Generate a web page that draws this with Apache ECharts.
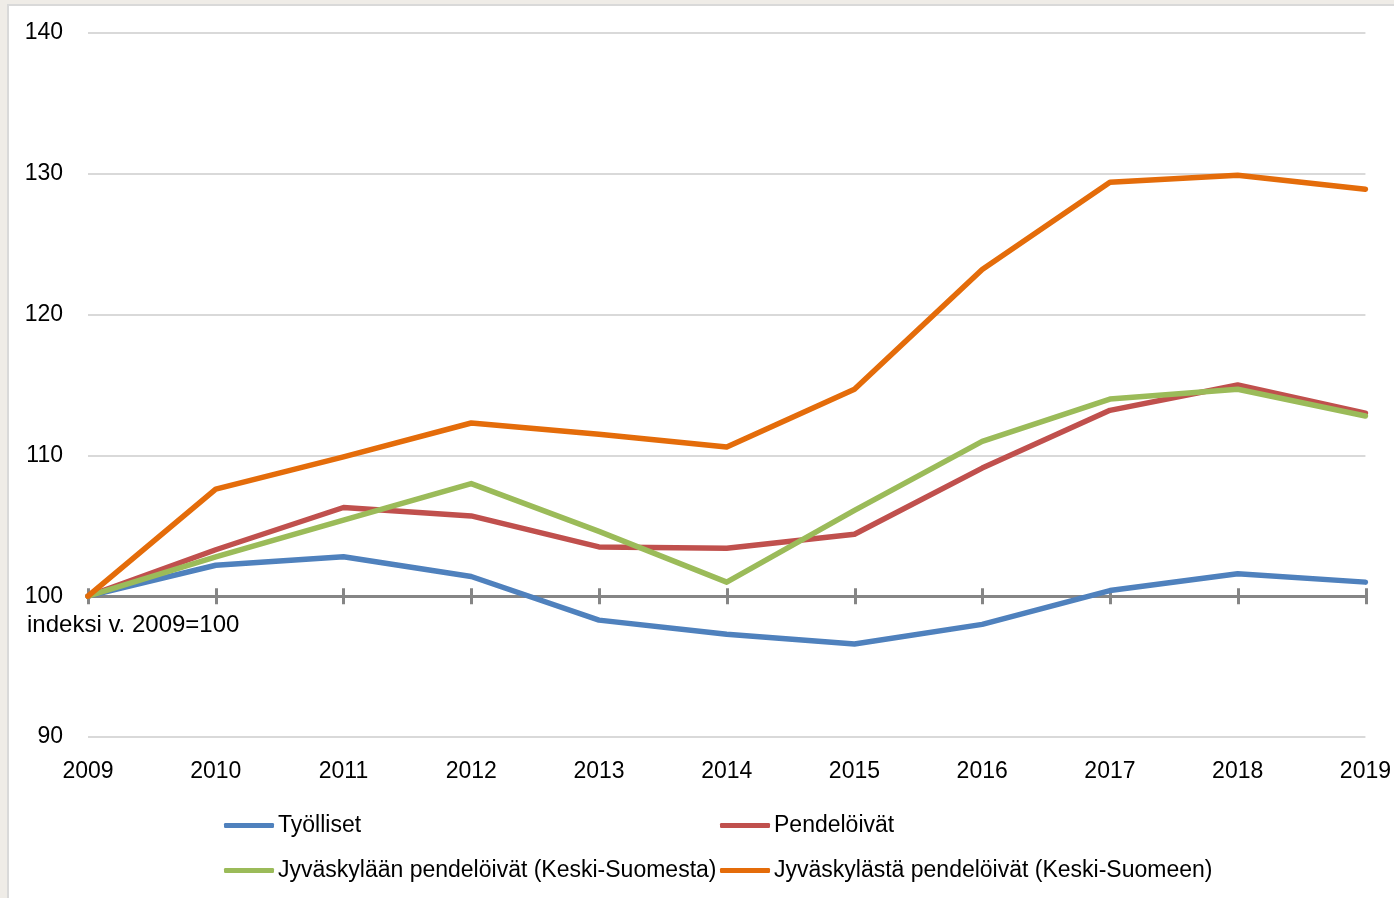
<!DOCTYPE html>
<html>
<head>
<meta charset="utf-8">
<script src="https://cdn.jsdelivr.net/npm/echarts@6/dist/echarts.min.js"></script>
<style>
  html, body { margin: 0; padding: 0; background: #efece7; }
  #chart { width: 1394px; height: 898px; }
</style>
</head>
<body>
<div id="chart"></div>
<script>
// vuodet
const years = ['2009','2010','2011','2012','2013','2014','2015','2016','2017','2018','2019'];

// indeksi v. 2009=100
const tyolliset   = [100, 102.2, 102.8, 101.4, 98.3, 97.3, 96.6, 98.0, 100.4, 101.6, 101.0];
const pendeloivat = [100, 103.3, 106.3, 105.7, 103.5, 103.4, 104.4, 109.1, 113.2, 115.0, 113.0];
const jklaan      = [100, 102.8, 105.4, 108.0, 104.6, 101.0, 106.1, 111.0, 114.0, 114.7, 112.8];
const jklasta     = [100, 107.6, 109.9, 112.3, 111.5, 110.6, 114.7, 123.2, 129.4, 129.9, 128.9];

const names = ['Työlliset', 'Pendelöivät', 'Jyväskylään pendelöivät (Keski-Suomesta)', 'Jyväskylästä pendelöivät (Keski-Suomeen)'];
const colors = ['#4f81bd', '#c0504d', '#9bbb59', '#e46c0a'];
const seriesData = [tyolliset, pendeloivat, jklaan, jklasta];

const font = 'Liberation Sans';
const axisGray = '#858585';

let myChart = echarts.init(document.getElementById('chart'));

function legendAt(i, left, top) {
  return {
    data: [names[i]],
    left: left, top: top,
    padding: 0,
    icon: 'roundRect',
    itemWidth: 50, itemHeight: 5,
    itemGap: 4,
    textStyle: { fontFamily: font, fontSize: 23, color: '#000', padding: [0, 0, 0, -1] }
  };
}

let options = {
  animation: false,
  backgroundColor: 'transparent',
  color: colors,
  graphic: [
    { type: 'rect', z: -10, shape: { x: 8, y: 5, width: 1400, height: 900 },
      style: { fill: '#fff', stroke: '#d9d9d9', lineWidth: 2 } },
    { type: 'text', left: 27, top: 613,
      style: { text: 'indeksi v. 2009=100', font: '24px "Liberation Sans"', fill: '#000' } }
  ],
  legend: [
    legendAt(0, 224, 814),
    legendAt(1, 720, 814),
    legendAt(2, 224, 859),
    legendAt(3, 720, 859)
  ],
  grid: [
    { left: 88, right: 28, top: 33, bottom: 161 },
    { left: 88, right: 28, top: 33, height: 563.2 },
    { left: 88, right: 28, top: 596.2, height: 100 }
  ],
  xAxis: [
    { type: 'category', gridIndex: 0, data: years, boundaryGap: false,
      axisLine: { show: false }, axisTick: { show: false },
      axisLabel: { fontFamily: font, fontSize: 23, color: '#000', margin: 23 } },
    { type: 'category', gridIndex: 1, data: years, boundaryGap: false, position: 'bottom',
      axisLine: { onZero: false, lineStyle: { color: axisGray, width: 3 } },
      axisTick: { length: 8, lineStyle: { color: axisGray, width: 3 } },
      axisLabel: { show: false } },
    { type: 'category', gridIndex: 2, data: years, boundaryGap: false, position: 'top',
      axisLine: { onZero: false, lineStyle: { color: axisGray, width: 3 } },
      axisTick: { length: 8, lineStyle: { color: axisGray, width: 3 } },
      axisLabel: { show: false } }
  ],
  yAxis: [
    { type: 'value', gridIndex: 0, min: 90, max: 140, interval: 10,
      axisLine: { show: false }, axisTick: { show: false },
      splitLine: { lineStyle: { color: '#d9d9d9', width: 2 } },
      axisLabel: { fontFamily: font, fontSize: 23, color: '#000', margin: 25, padding: [4, 0, 0, 0] } },
    { type: 'value', gridIndex: 1, min: 0, max: 1, show: false },
    { type: 'value', gridIndex: 2, min: 0, max: 1, show: false }
  ],
  series: seriesData.map((d, i) => ({
    name: names[i],
    type: 'line',
    xAxisIndex: 0, yAxisIndex: 0,
    data: d,
    showSymbol: false,
    symbol: 'none',
    z: 10 + i,
    lineStyle: { width: 5.5, color: colors[i], cap: 'round', join: 'round' },
    itemStyle: { color: colors[i] }
  }))
};

myChart.setOption(options);
</script>
</body>
</html>
